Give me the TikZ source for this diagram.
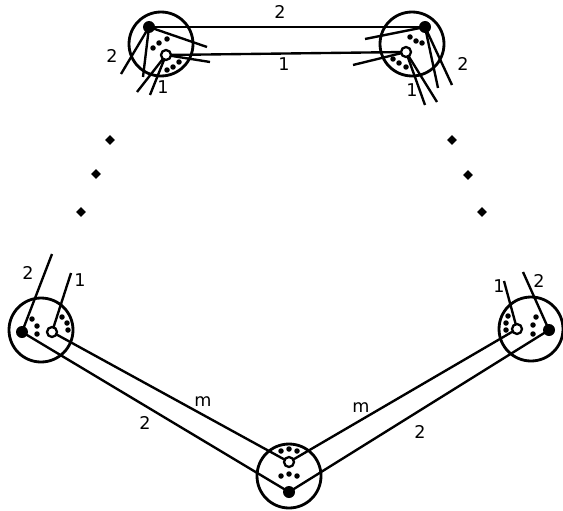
\documentclass[tikz,border=0pt]{standalone}
\usepackage{fontspec}
\setmainfont{DejaVu Sans}
\usetikzlibrary{shapes.geometric}
\begin{document}
\begin{tikzpicture}[
  x=0.02cm,y=-0.02cm,
  disk/.style={draw,circle,line width=1.6pt,minimum size=1.28cm,inner sep=0pt},
  full/.style={circle,fill,inner sep=0pt,minimum size=0.24cm},
  hole/.style={circle,draw,fill=white,line width=1.3pt,inner sep=0pt,minimum size=0.2cm},
  speck/.style={circle,fill,inner sep=0pt,minimum size=0.11cm},
  gap/.style={diamond,fill,inner sep=0pt,minimum size=0.2cm},
  link/.style={line width=1.35pt},
  lbl/.style={font=\fontsize{10}{12}\selectfont,inner sep=0pt}
]
\useasboundingbox (0,0) rectangle (563,510);
% disks
\node[disk] (A) at (161,44) {};
\node[disk] (B) at (412,44) {};
\node[disk] (C) at (41,330) {};
\node[disk] (D) at (531,329) {};
\node[disk] (E) at (289,476) {};
% points on the disks
\coordinate (Af) at (149,27);  \coordinate (Ao) at (166,55);
\coordinate (Bf) at (425,27);  \coordinate (Bo) at (406,52);
\coordinate (Cf) at (22,332);  \coordinate (Co) at (52,332);
\coordinate (Df) at (549,330); \coordinate (Do) at (517,329);
\coordinate (Ef) at (289,492); \coordinate (Eo) at (289,462);
% free ends
\coordinate (a1) at (121,74);  \coordinate (a2) at (143,77);  \coordinate (a3) at (207,47);
\coordinate (a4) at (137,92);  \coordinate (a5) at (150,95);  \coordinate (a6) at (210,62);
\coordinate (b1) at (365,39);  \coordinate (b2) at (438,88);  \coordinate (b3) at (452,85);
\coordinate (b4) at (353,65);  \coordinate (b5) at (425,105); \coordinate (b6) at (437,102);
\coordinate (c1) at (52,254);  \coordinate (c2) at (71,273);
\coordinate (d1) at (523,272); \coordinate (d2) at (504,281);
% connectors
\draw[link] (Af) -- (Bf);
\draw[link] (Ao) -- (Bo);
\draw[link] (Af) -- (a1);
\draw[link] (Af) -- (a2);
\draw[link] (Af) -- (a3);
\draw[link] (Ao) -- (a4);
\draw[link] (Ao) -- (a5);
\draw[link] (Ao) -- (a6);
\draw[link] (Bf) -- (b1);
\draw[link] (Bf) -- (b2);
\draw[link] (Bf) -- (b3);
\draw[link] (Bo) -- (b4);
\draw[link] (Bo) -- (b5);
\draw[link] (Bo) -- (b6);
\draw[link] (Cf) -- (c1);
\draw[link] (Co) -- (c2);
\draw[link] (Df) -- (d1);
\draw[link] (Do) -- (d2);
\draw[link] (Cf) -- (Ef);
\draw[link] (Co) -- (Eo);
\draw[link] (Df) -- (Ef);
\draw[link] (Do) -- (Eo);
% dots
\foreach \p in {Af,Bf,Cf,Df,Ef} \node[full] (\p-dot) at (\p) {};
\foreach \p in {Ao,Bo,Co,Do,Eo} \node[hole] (\p-dot) at (\p) {};
\foreach \n/\x/\y in {s1/153/48,s2/159/43,s3/167/39,s4/167/70,s5/173/67,s6/179/62,
  s7/410/37,s8/416/41,s9/422/43,s10/393/59,s11/399/63,s12/406/67,
  s13/32/319,s14/37/326,s15/37/334,s16/62/317,s17/67/323,s18/68/330,
  s19/508/316,s20/506/323,s21/506/330,s22/536/317,s23/533/325,s24/533/334,
  s25/281/451,s26/289/449,s27/297/451,s28/281/476,s29/289/474,s30/297/476}
  \node[speck] (\n) at (\x,\y) {};
% ellipses
\node[gap] (g1) at (110,140) {};
\node[gap] (g2) at (96,174) {};
\node[gap] (g3) at (81,212) {};
\node[gap] (g4) at (452,140) {};
\node[gap] (g5) at (468,175) {};
\node[gap] (g6) at (482,212) {};
% labels
\node[lbl] (lAB2) at (280,12) {2};
\node[lbl] (lAB1) at (284,64) {1};
\node[lbl] (lA2) at (112,56) {2};
\node[lbl] (lA1) at (163,87) {1};
\node[lbl] (lB2) at (463,64) {2};
\node[lbl] (lB1) at (412,90) {1};
\node[lbl] (lC2) at (28,273) {2};
\node[lbl] (lC1) at (80,280) {1};
\node[lbl] (lD1) at (499,286) {1};
\node[lbl] (lD2) at (539,281) {2};
\node[lbl] (lCE2) at (145,423) {2};
\node[lbl] (lCEm) at (203,402) {m};
\node[lbl] (lDEm) at (361,408) {m};
\node[lbl] (lDE2) at (420,432) {2};
\end{tikzpicture}
\end{document}
